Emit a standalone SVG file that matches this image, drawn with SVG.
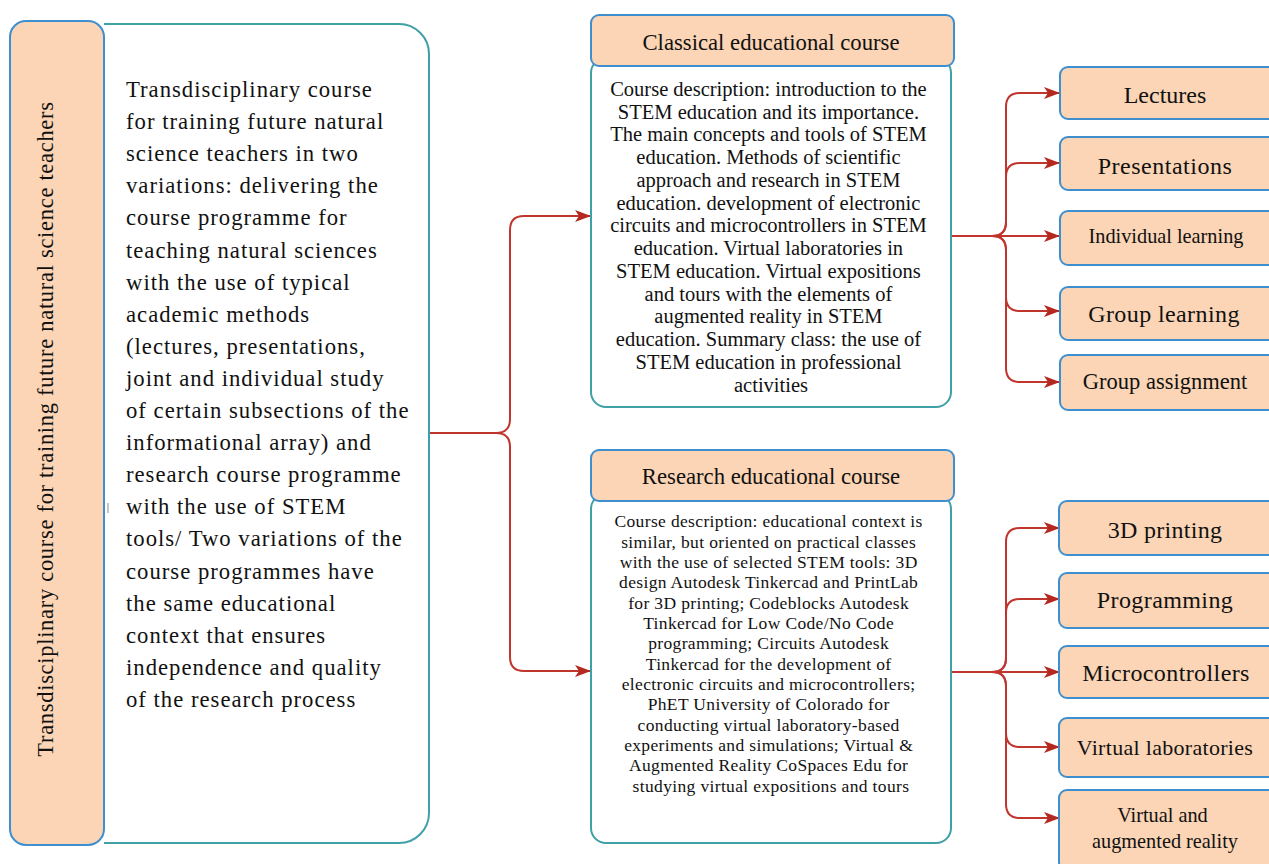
<svg xmlns="http://www.w3.org/2000/svg" width="1269" height="864" viewBox="0 0 1269 864">
<style>
.peach{fill:#fbd5b5;stroke:#3f8fcf;stroke-width:2}
.white{fill:#ffffff;stroke:#3fa0a6;stroke-width:2}
.conn{fill:none;stroke:#c0352e;stroke-width:2}
.t{font-family:"Liberation Serif","Times New Roman",serif;fill:#111111}
.main{font-size:22.7px;letter-spacing:1px}
.hdr{font-size:22.7px;text-anchor:middle}
.cls{font-size:20.5px;text-anchor:middle}
.res{font-size:17.5px;letter-spacing:0.35px;text-anchor:middle}
.lbl{text-anchor:middle}
</style>
<defs>
<marker id="arr" markerUnits="userSpaceOnUse" markerWidth="16" markerHeight="12" refX="15" refY="6" orient="auto">
<path d="M0,0 L16,6 L0,12 L4,6 z" fill="#b5281f"/>
</marker>
</defs>

<g id="connectors">
<path class="conn" marker-end="url(#arr)" d="M429 433 H496 Q510 433 510 419 V230 Q510 216 524 216 H590"/>
<path class="conn" marker-end="url(#arr)" d="M429 433 H496 Q510 433 510 447 V657 Q510 671 524 671 H590"/>

<path class="conn" marker-end="url(#arr)" d="M951 236 H992 Q1006 236 1006 222 V107 Q1006 93 1020 93 H1059"/>
<path class="conn" marker-end="url(#arr)" d="M951 236 H992 Q1006 236 1006 222 V177 Q1006 163 1020 163 H1059"/>
<path class="conn" marker-end="url(#arr)" d="M951 236 H1059"/>
<path class="conn" marker-end="url(#arr)" d="M951 236 H992 Q1006 236 1006 250 V297 Q1006 311 1020 311 H1059"/>
<path class="conn" marker-end="url(#arr)" d="M951 236 H992 Q1006 236 1006 250 V368 Q1006 382 1020 382 H1059"/>

<path class="conn" marker-end="url(#arr)" d="M951 672 H992 Q1006 672 1006 658 V542 Q1006 528 1020 528 H1059"/>
<path class="conn" marker-end="url(#arr)" d="M951 672 H992 Q1006 672 1006 658 V613 Q1006 599 1020 599 H1059"/>
<path class="conn" marker-end="url(#arr)" d="M951 672 H1059"/>
<path class="conn" marker-end="url(#arr)" d="M951 672 H992 Q1006 672 1006 686 V733 Q1006 747 1020 747 H1059"/>
<path class="conn" marker-end="url(#arr)" d="M951 672 H992 Q1006 672 1006 686 V804 Q1006 818 1020 818 H1059"/>
</g>

<g id="main-node">
<path class="white" d="M104 24 H399 A30 30 0 0 1 429 54 V813 A30 30 0 0 1 399 843 H104"/>
<line x1="108" y1="503" x2="108" y2="513" stroke="#8a8a8a" stroke-width="1"/>
<text class="t main" x="126" y="97">
<tspan x="126" y="97">Transdisciplinary course</tspan>
<tspan x="126" y="129.1">for training future natural</tspan>
<tspan x="126" y="161.2">science teachers in two</tspan>
<tspan x="126" y="193.3">variations: delivering the</tspan>
<tspan x="126" y="225.4">course programme for</tspan>
<tspan x="126" y="257.5">teaching natural sciences</tspan>
<tspan x="126" y="289.6">with the use of typical</tspan>
<tspan x="126" y="321.7">academic methods</tspan>
<tspan x="126" y="353.8">(lectures, presentations,</tspan>
<tspan x="126" y="385.9">joint and individual study</tspan>
<tspan x="126" y="418">of certain subsections of the</tspan>
<tspan x="126" y="450.1">informational array) and</tspan>
<tspan x="126" y="482.2">research course programme</tspan>
<tspan x="126" y="514.3">with the use of STEM</tspan>
<tspan x="126" y="546.4">tools/ Two variations of the</tspan>
<tspan x="126" y="578.5">course programmes have</tspan>
<tspan x="126" y="610.6">the same educational</tspan>
<tspan x="126" y="642.7">context that ensures</tspan>
<tspan x="126" y="674.8">independence and quality</tspan>
<tspan x="126" y="706.9">of the research process</tspan>
</text>
</g>

<g id="title-strip">
<rect class="peach" x="10" y="21" width="94" height="824" rx="16" ry="16"/>
<text class="t" font-size="22.5" letter-spacing="0.7" text-anchor="middle" transform="translate(53,429) rotate(-90)">Transdisciplinary course for training future natural science teachers</text>
</g>

<g id="classical-course">
<rect class="white" x="591" y="58" width="360" height="349" rx="15" ry="15"/>
<rect class="peach" x="591" y="15" width="363" height="51" rx="8" ry="8"/>
<text class="t hdr" x="771" y="50">Classical educational course</text>
<text class="t cls">
<tspan x="771" y="95.7">Course description: introduction to the</tspan>
<tspan x="771" y="118.5">STEM education and its importance.</tspan>
<tspan x="771" y="141.2">The main concepts and tools of STEM</tspan>
<tspan x="771" y="164">education. Methods of scientific</tspan>
<tspan x="771" y="186.8">approach and research in STEM</tspan>
<tspan x="771" y="209.5">education. development of electronic</tspan>
<tspan x="771" y="232.3">circuits and microcontrollers in STEM</tspan>
<tspan x="771" y="255.1">education. Virtual laboratories in</tspan>
<tspan x="771" y="277.9">STEM education. Virtual expositions</tspan>
<tspan x="771" y="300.6">and tours with the elements of</tspan>
<tspan x="771" y="323.4">augmented reality in STEM</tspan>
<tspan x="771" y="346.2">education. Summary class: the use of</tspan>
<tspan x="771" y="368.9">STEM education in professional</tspan>
<tspan x="771" y="391.7">activities</tspan>
</text>
</g>

<g id="research-course">
<rect class="white" x="591" y="494" width="360" height="349" rx="15" ry="15"/>
<rect class="peach" x="591" y="450" width="363" height="51" rx="8" ry="8"/>
<text class="t hdr" x="771" y="484">Research educational course</text>
<text class="t res">
<tspan x="771" y="527.3">Course description: educational context is</tspan>
<tspan x="771" y="547.6">similar, but oriented on practical classes</tspan>
<tspan x="771" y="568">with the use of selected STEM tools: 3D</tspan>
<tspan x="771" y="588.3">design Autodesk Tinkercad and PrintLab</tspan>
<tspan x="771" y="608.7">for 3D printing; Codeblocks Autodesk</tspan>
<tspan x="771" y="629">Tinkercad for Low Code/No Code</tspan>
<tspan x="771" y="649.3">programming; Circuits Autodesk</tspan>
<tspan x="771" y="669.7">Tinkercad for the development of</tspan>
<tspan x="771" y="690">electronic circuits and microcontrollers;</tspan>
<tspan x="771" y="710.4">PhET University of Colorado for</tspan>
<tspan x="771" y="730.7">conducting virtual laboratory-based</tspan>
<tspan x="771" y="751">experiments and simulations; Virtual &amp;</tspan>
<tspan x="771" y="771.4">Augmented Reality CoSpaces Edu for</tspan>
<tspan x="771" y="791.7">studying virtual expositions and tours</tspan>
</text>
</g>

<g id="lectures">
<rect class="peach" x="1060" y="67" width="222" height="52" rx="8" ry="8"/>
<text class="t lbl" x="1165" y="103" font-size="24">Lectures</text>
</g>
<g id="presentations">
<rect class="peach" x="1060" y="137" width="222" height="53" rx="8" ry="8"/>
<text class="t lbl" x="1165" y="174" font-size="24" letter-spacing="0.5">Presentations</text>
</g>
<g id="individual-learning">
<rect class="peach" x="1060" y="211" width="222" height="54" rx="8" ry="8"/>
<text class="t lbl" x="1166" y="243" font-size="20.3">Individual learning</text>
</g>
<g id="group-learning">
<rect class="peach" x="1060" y="287" width="222" height="53" rx="8" ry="8"/>
<text class="t lbl" x="1164" y="322" font-size="24" letter-spacing="0.4">Group learning</text>
</g>
<g id="group-assignment">
<rect class="peach" x="1060" y="355" width="222" height="55" rx="8" ry="8"/>
<text class="t lbl" x="1165" y="389" font-size="22.5">Group assignment</text>
</g>

<g id="printing-3d">
<rect class="peach" x="1059" y="501" width="222" height="54" rx="8" ry="8"/>
<text class="t lbl" x="1165" y="538" font-size="24" letter-spacing="0.3">3D printing</text>
</g>
<g id="programming">
<rect class="peach" x="1059" y="573" width="222" height="55" rx="8" ry="8"/>
<text class="t lbl" x="1165" y="608" font-size="24" letter-spacing="0.4">Programming</text>
</g>
<g id="microcontrollers">
<rect class="peach" x="1059" y="646" width="222" height="52" rx="8" ry="8"/>
<text class="t lbl" x="1166" y="681" font-size="24" letter-spacing="0.4">Microcontrollers</text>
</g>
<g id="virtual-laboratories">
<rect class="peach" x="1059" y="718" width="222" height="59" rx="8" ry="8"/>
<text class="t lbl" x="1165" y="755" font-size="22" letter-spacing="0.3">Virtual laboratories</text>
</g>
<g id="virtual-augmented-reality">
<rect class="peach" x="1059" y="790" width="222" height="80" rx="8" ry="8"/>
<text class="t lbl" font-size="20.3">
<tspan x="1165" y="822">Virtual and</tspan>
<tspan x="1165" y="848">augmented reality</tspan>
</text>
</g>
</svg>
